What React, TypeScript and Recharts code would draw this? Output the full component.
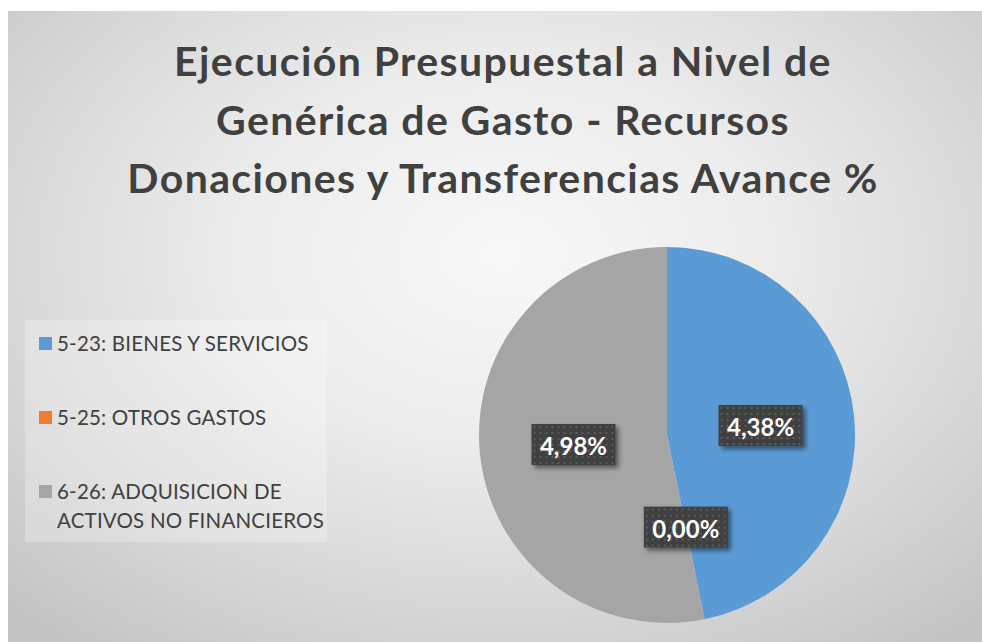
import { PieChart, Pie, Cell, Legend } from "recharts";

const categories = [
  "5-23: BIENES Y SERVICIOS",
  "5-25: OTROS GASTOS",
  "6-26: ADQUISICION DE ACTIVOS NO FINANCIEROS",
];
const values = [4.38, 0.0, 4.98];
const colors = ["#5B9BD5", "#ED7D31", "#A5A5A5"];
const titleLines = [
  "Ejecución Presupuestal a Nivel de",
  "Genérica de Gasto - Recursos",
  "Donaciones y Transferencias Avance %",
];

const data = categories.map((name, i) => ({ name, value: values[i] }));

const FONT = "Lato, 'Open Sans', sans-serif";
const RADIAN = Math.PI / 180;

const fmt = (v: number) => v.toFixed(2).replace(".", ",") + "%";

function renderLabel(props: any) {
  const { cx, cy, midAngle, outerRadius, value, index } = props;
  const r = outerRadius * 0.5;
  const x = cx + r * Math.cos(-midAngle * RADIAN);
  const y = cy + r * Math.sin(-midAngle * RADIAN);
  const w = 84;
  const h = 41;
  const pid = `dots-${index}`;
  const fid = `shadow-${index}`;
  return (
    <g>
      <defs>
        <pattern id={pid} width="6" height="6" patternUnits="userSpaceOnUse" x={x - w / 2} y={y - h / 2}>
          <rect width="6" height="6" fill="#404040" />
          <rect x="2" y="2" width="2" height="2" fill="#5c5c5c" />
        </pattern>
        <filter id={fid} x="-20%" y="-30%" width="150%" height="170%">
          <feGaussianBlur in="SourceAlpha" stdDeviation="2.5" />
          <feOffset dx="3" dy="3" result="b" />
          <feComponentTransfer>
            <feFuncA type="linear" slope="0.5" />
          </feComponentTransfer>
          <feMerge>
            <feMergeNode />
            <feMergeNode in="SourceGraphic" />
          </feMerge>
        </filter>
      </defs>
      <rect x={x - w / 2} y={y - h / 2} width={w} height={h} fill={`url(#${pid})`} filter={`url(#${fid})`} />
      <text
        x={x}
        y={y + 1}
        textAnchor="middle"
        dominantBaseline="central"
        fill="#ffffff"
        fontFamily={FONT}
        fontWeight={700}
        fontSize={24}
      >
        {fmt(value)}
      </text>
    </g>
  );
}

function LegendBox() {
  return (
    <div
      style={{
        width: 302,
        height: 222,
        background: "rgba(255,255,255,0.25)",
        position: "relative",
        fontFamily: FONT,
        fontSize: 20.5,
        letterSpacing: 0.2,
        color: "#404040",
      }}
    >
      {categories.map((name, i) => (
        <div
          key={name}
          style={{
            position: "absolute",
            left: 14,
            top: [9, 83, 157][i],
            display: "flex",
            alignItems: "flex-start",
          }}
        >
          <span
            style={{
              width: 13,
              height: 13,
              background: colors[i],
              marginTop: 8,
              marginRight: 5,
              flex: "none",
            }}
          />
          <span style={{ width: 268, lineHeight: "29px" }}>{name}</span>
        </div>
      ))}
    </div>
  );
}

export default function App() {
  return (
    <div
      style={{
        position: "fixed",
        left: 0,
        top: 0,
        width: 982,
        height: 642,
        overflow: "hidden",
        background: "#ffffff",
      }}
    >
      <div
        style={{
          position: "absolute",
          left: 8,
          top: 11,
          width: 990,
          height: 640,
          overflow: "hidden",
          background:
            "radial-gradient(ellipse 72% 78% at 50% 38%, #f8f8f8 0%, #ececec 38%, #d8d8d8 70%, #c3c3c3 100%)",
        }}
      >
        <div
          style={{
            position: "absolute",
            left: 0,
            top: 21,
            width: 990,
            textAlign: "center",
            fontFamily: FONT,
            fontWeight: 700,
            fontSize: 41,
            letterSpacing: 1.4,
            lineHeight: "58.5px",
            color: "#404040",
          }}
        >
          {titleLines.map((t) => (
            <div key={t}>{t}</div>
          ))}
        </div>
        <PieChart width={990} height={640} style={{ position: "absolute", left: 0, top: 0 }}>
          <Pie
            data={data}
            dataKey="value"
            nameKey="name"
            cx={654}
            cy={419}
            outerRadius={188}
            startAngle={90}
            endAngle={-270}
            stroke="none"
            label={renderLabel}
            labelLine={false}
            isAnimationActive={false}
          >
            {data.map((d, i) => (
              <Cell key={d.name} fill={colors[i]} />
            ))}
          </Pie>
          <Legend
            layout="vertical"
            content={() => <LegendBox />}
            wrapperStyle={{ position: "absolute", left: 17, top: 309, width: 302, height: 222 }}
          />
        </PieChart>
      </div>
    </div>
  );
}
